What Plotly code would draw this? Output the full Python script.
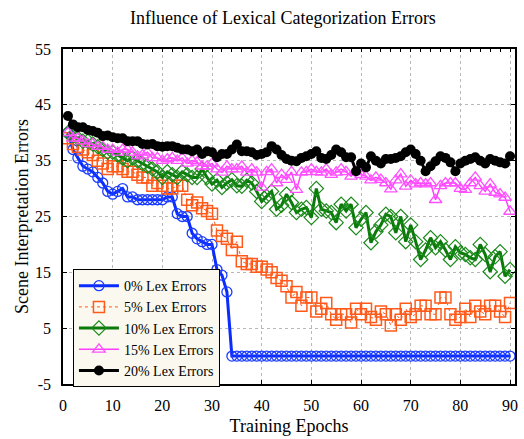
import plotly.graph_objects as go

epochs = list(range(1, 91))

lex0 = [40, 37, 35.5, 34, 33.5, 33, 32, 31, 29.5, 29, 29.5, 30, 28.5, 28.5, 28, 28, 28, 28, 28, 28,
        28.5, 28.5, 25.5, 25, 25, 22, 21, 20.5, 20, 20, 15.5, 14.5, 11.5] + [0] * 57

lex5 = [39, 38, 37.5, 37, 36.5, 36, 35, 34.5, 33.5, 34, 34, 33.5, 33, 33, 32.5, 32, 32, 30.5, 31, 30.5,
        30, 30, 30.5, 30.5, 28, 27, 27.5, 26.5, 26, 25.5, 22.5, 21.5, 21, 19, 20.5, 17, 16.5, 16.5, 16, 16,
        15.5, 15, 14, 13.5, 12.5, 10.5, 11.5, 9, 10.5, 10.5, 8, 8.5, 9.5, 7.5, 6.5, 7.5, 7.5, 6, 8.5, 7.5,
        8.5, 7, 6.5, 8, 7.5, 5.5, 7.5, 6.5, 8.5, 7, 7.5, 9, 9, 7.5, 7.5, 10.5, 10.5, 7.5, 6.5, 7,
        8.5, 7, 9, 8, 7.5, 9, 9, 8, 7, 9.5]

lex10 = [40, 39.5, 39, 38.5, 38.5, 38, 37.5, 37, 36.5, 36.5, 36, 35.5, 35, 35.5, 35, 34.5, 34, 33.5, 33, 32,
         33, 32.5, 32, 33, 32.5, 32, 32, 33.5, 32, 30.8, 31.5, 30.2, 31, 31.6, 30.5, 30.4, 31.5, 31, 29.5, 27.7,
         28.6, 29.5, 26.3, 27, 29, 27.5, 25.7, 26.3, 26.6, 24.8, 30, 26.3, 26, 25.7, 23.9, 27.2, 26, 27.2, 23, 24.5,
         25.7, 20.3, 22.3, 23.5, 25.4, 25, 22.1, 25, 20.5, 23.5, 20.5, 17.3, 19, 21.2, 19.4, 20.5, 19, 17.3, 19.6, 18.5,
         18.2, 17.6, 17.3, 20, 18.2, 15.1, 17.8, 18.7, 14.3, 15.5]

lex15 = [40, 39, 39, 38.5, 38, 38, 37.5, 37.5, 37, 37, 36.5, 37, 37, 36.5, 35.8, 36, 36.5, 35.5, 35.5, 35,
         35.3, 35.5, 35, 35.5, 34.5, 35, 34.7, 34, 34, 34.5, 33.5, 32.9, 34, 33.5, 33.5, 34, 32.9, 33.5, 32.9, 30.2,
         33, 33.5, 31, 32.5, 31.6, 33, 29.8, 32.9, 33, 33.5, 33, 32.9, 33.5, 32.5, 32.9, 33.5, 33, 32.2, 33, 32.5,
         32.2, 31.5, 32, 31.6, 31, 29.9, 31.5, 32.6, 30.4, 31.5, 30.8, 31, 30.8, 31, 28, 30.5, 31, 31, 31, 30,
         29.8, 31, 32, 30.5, 29.5, 30.8, 29.3, 29, 28.4, 25.9]

lex20 = [43, 41.5, 41, 41, 40.5, 40.3, 40, 39.4, 39.5, 39.2, 39, 39, 38.5, 38.5, 38.5, 38, 37.9, 38, 37.6, 37.5,
         37.6, 37.6, 37.3, 37, 37, 36.7, 37, 36.2, 36.7, 36.5, 35.6, 36.2, 36.2, 37, 37.9, 36.7, 36.7, 36.5, 36, 36.2,
         36.5, 37.6, 37, 36, 35.3, 35, 34.9, 35.5, 35.8, 36.2, 36.7, 35.5, 35.3, 36, 37, 36.5, 35.6, 35.6, 33.1, 34.5,
         33.8, 35.8, 35, 34.5, 35.3, 35.3, 35.5, 35.8, 36.5, 37, 36.2, 35, 33.1, 34, 34.9, 35.8, 35.5, 34.7, 33.1, 34.5,
         35, 35.3, 35.6, 35, 34.5, 35.3, 35, 34.7, 34.5, 35.8]

names = ["0% Lex Errors", "5% Lex Errors", "10% Lex Errors", "15% Lex Errors", "20% Lex Errors"]
x_ticks = [0, 10, 20, 30, 40, 50, 60, 70, 80, 90]
y_ticks = [-5, 5, 15, 25, 35, 45, 55]
y_labels = ["-5", "5", "15", "25", "35", "45", "55"]

FONT = "Liberation Serif, Times New Roman, serif"

fig = go.Figure()
fig.add_trace(go.Scatter(x=epochs, y=lex0, name=names[0], mode="lines+markers",
                         line=dict(color="#0a2cff", width=3),
                         marker=dict(symbol="circle-open", size=10, color="#1a3cff", line=dict(width=1.3))))
fig.add_trace(go.Scatter(x=epochs, y=lex5, name=names[1], mode="lines+markers",
                         line=dict(color="#ff5a1a", width=1, dash="dot"),
                         marker=dict(symbol="square-open", size=11, color="#ff5a1a", line=dict(width=1.5))))
fig.add_trace(go.Scatter(x=epochs, y=lex10, name=names[2], mode="lines+markers",
                         line=dict(color="#0b7a0b", width=3),
                         marker=dict(symbol="diamond-open", size=11, color="#1a8a1a", line=dict(width=1.2))))
fig.add_trace(go.Scatter(x=epochs, y=lex15, name=names[3], mode="lines+markers",
                         line=dict(color="#ff3cff", width=1.5),
                         marker=dict(symbol="triangle-up-open", size=11, color="#ff50ff", line=dict(width=1.3))))
fig.add_trace(go.Scatter(x=epochs, y=lex20, name=names[4], mode="lines+markers",
                         line=dict(color="#000000", width=3),
                         marker=dict(symbol="circle", size=10, color="#000000")))

grid = dict(showgrid=True, gridcolor="#b8b8b8", griddash="dot", gridwidth=1, zeroline=False)

fig.update_layout(
    xaxis=dict(range=[0, 91], tickvals=x_ticks, showline=True, linecolor="black", linewidth=1.5, mirror=True,
               ticks="inside", ticklen=4, tickcolor="black", ticklabelstandoff=6,
               tickfont=dict(family=FONT, size=16, color="black"),
               title=dict(text="Training Epochs", font=dict(family=FONT, size=18, color="black"), standoff=6),
               **grid),
    xaxis2=dict(range=[0, 91], overlaying="x", side="top", showticklabels=False,
                tickmode="linear", tick0=0, dtick=2, ticks="inside", ticklen=3, tickcolor="black",
                showgrid=False, zeroline=False, showline=False),
    yaxis=dict(range=[-5, 55], tickvals=y_ticks, ticktext=y_labels, showline=True, linecolor="black", linewidth=1.5,
               mirror="ticks", ticks="inside", ticklen=4, tickcolor="black", ticklabelstandoff=7,
               tickfont=dict(family=FONT, size=16, color="black"),
               title=dict(text="Scene Interpretation Errors", font=dict(family=FONT, size=18, color="black"), standoff=2),
               **grid),
    width=524, height=439,
    margin=dict(l=63, r=6, t=49, b=55),
    paper_bgcolor="white", plot_bgcolor="white",
    title=dict(text="Influence of Lexical Categorization Errors", x=0.54, xanchor="center",
               y=1 - 18 / 439, yanchor="middle",
               font=dict(family=FONT, size=18, color="black")),
    legend=dict(x=0.022, y=0.343, xanchor="left", yanchor="top", bgcolor="#fbf9ef",
                bordercolor="black", borderwidth=1, font=dict(family=FONT, size=14, color="black"),
                itemwidth=40, tracegroupgap=0),
    showlegend=True,
)

# invisible helper trace so the top minor-tick axis is drawn
fig.add_trace(go.Scatter(x=[0], y=[None], xaxis="x2", showlegend=False, hoverinfo="skip", mode="markers"))

fig.write_html("out.html", config={"displayModeBar": False},
               post_script="document.body.style.margin='0';document.body.style.padding='0';")
